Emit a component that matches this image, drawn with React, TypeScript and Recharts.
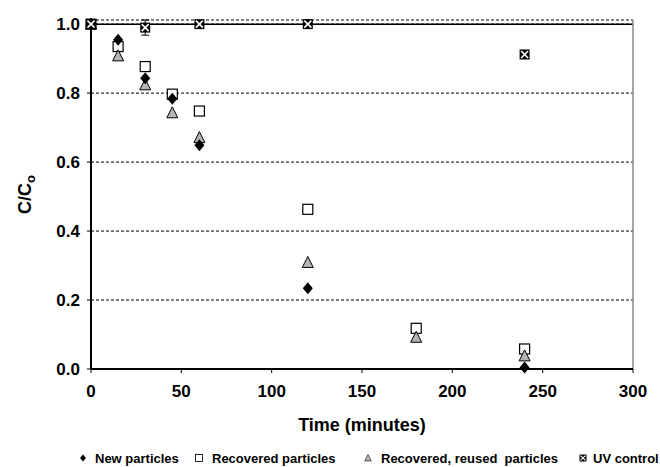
import React from "react";
import {
  ScatterChart,
  Scatter,
  XAxis,
  YAxis,
  CartesianGrid,
  ReferenceLine,
  ErrorBar,
  Legend,
} from "recharts";

// C/Co readings per series (time in minutes)
const newTimes = [0, 15, 30, 45, 60, 120, 240];
const newValues = [1.0, 0.955, 0.843, 0.784, 0.649, 0.234, 0.004];

const recTimes = [0, 15, 30, 45, 60, 120, 180, 240];
const recValues = [1.0, 0.935, 0.877, 0.797, 0.748, 0.463, 0.118, 0.058];
const recErrors = [0, 0, 0.012, 0, 0, 0, 0, 0];

const reuTimes = [0, 15, 30, 45, 60, 120, 180, 240];
const reuValues = [1.0, 0.908, 0.824, 0.743, 0.671, 0.309, 0.092, 0.038];

const uvTimes = [0, 30, 60, 120, 240];
const uvValues = [1.0, 0.99, 1.0, 1.0, 0.912];
const uvErrors = [0, 0.022, 0, 0, 0];

const xTicks = [0, 50, 100, 150, 200, 250, 300];
const yTicks = [0, 0.2, 0.4, 0.6, 0.8, 1.0];

const FONT = "'Liberation Sans', Arial, sans-serif";

const toRows = (times: number[], values: number[], errs?: number[]) =>
  times.map((t, i) => ({ t, v: values[i], err: errs ? errs[i] : 0 }));

const newData = toRows(newTimes, newValues);
const recData = toRows(recTimes, recValues, recErrors);
const reuData = toRows(reuTimes, reuValues);
const uvData = toRows(uvTimes, uvValues, uvErrors);

const Diamond = ({ cx, cy }: any) => (
  <polygon
    points={`${cx},${cy - 6} ${cx + 5},${cy} ${cx},${cy + 6} ${cx - 5},${cy}`}
    fill="#000"
  />
);

const Square = ({ cx, cy }: any) => (
  <rect x={cx - 5} y={cy - 5} width={10} height={10} fill="#fff" stroke="#000" strokeWidth={1.2} />
);

const Triangle = ({ cx, cy }: any) => (
  <polygon
    points={`${cx},${cy - 6} ${cx + 5.5},${cy + 5} ${cx - 5.5},${cy + 5}`}
    fill="#b4b4b4"
    stroke="#000"
    strokeWidth={1}
  />
);

const UvMark = ({ cx, cy }: any) => (
  <g>
    <rect x={cx - 5} y={cy - 5} width={10} height={10} fill="#000" />
    <line x1={cx - 3.5} y1={cy - 3.5} x2={cx + 3.5} y2={cy + 3.5} stroke="#fff" strokeWidth={1.6} />
    <line x1={cx + 3.5} y1={cy - 3.5} x2={cx - 3.5} y2={cy + 3.5} stroke="#fff" strokeWidth={1.6} />
  </g>
);

const legendItems = [
  { name: "New particles", x: 83, tx: 95, shape: Diamond, scale: 0.6 },
  { name: "Recovered particles", x: 199, tx: 212, shape: Square, scale: 0.7 },
  { name: "Recovered, reused  particles", x: 368, tx: 381, shape: Triangle, scale: 0.6 },
  { name: "UV control", x: 583, tx: 593, shape: UvMark, scale: 0.7 },
];

const renderLegend = () => (
  <svg width={660} height={18}>
    {legendItems.map((it) => {
      const S = it.shape;
      return (
        <g key={it.name}>
          <g transform={`translate(${it.x} 9) scale(${it.scale})`}>
            <S cx={0} cy={0} />
          </g>
          <text
            x={it.tx}
            y={13.5}
            fontFamily={FONT}
            fontWeight="bold"
            fontSize={13}
            fill="#000"
            style={{ whiteSpace: "pre" }}
          >
            {it.name}
          </text>
        </g>
      );
    })}
  </svg>
);

const YLabel = ({ viewBox }: any) => {
  const x = viewBox.x - 6;
  const y = viewBox.y + viewBox.height / 2;
  return (
    <text
      x={x}
      y={y}
      transform={`rotate(-90 ${x} ${y})`}
      textAnchor="middle"
      dominantBaseline="central"
      fontFamily={FONT}
      fontWeight="bold"
      fontSize={18}
      fill="#000"
    >
      C/C
      <tspan fontSize={13} dy={5}>o</tspan>
    </text>
  );
};

const tickStyle = { fontFamily: FONT, fontWeight: "bold" as const, fontSize: 17, fill: "#000" };

export default function App() {
  return (
    <div style={{ position: "absolute", left: 0, top: 0, background: "#fff" }}>
      <ScatterChart
        width={660}
        height={467}
        margin={{ top: 20, right: 27, bottom: 0, left: 31 }}
      >
        <CartesianGrid vertical={false} stroke="#000" strokeDasharray="3 2" />
        <ReferenceLine y={1} stroke="#000" strokeWidth={1.5} />
        <ReferenceLine x={300} stroke="#888" strokeWidth={1.5} />
        <XAxis
          type="number"
          dataKey="t"
          domain={[0, 300]}
          ticks={xTicks}
          interval={0}
          height={80}
          tickSize={4}
          tickMargin={12}
          tick={tickStyle}
          axisLine={{ stroke: "#000", strokeWidth: 2 }}
          tickLine={{ stroke: "#000" }}
          label={{
            value: "Time (minutes)",
            position: "insideBottom",
            offset: 18,
            style: { fontFamily: FONT, fontWeight: "bold", fontSize: 18, fill: "#000" },
          }}
        />
        <YAxis
          type="number"
          dataKey="v"
          domain={[0, 1]}
          ticks={yTicks}
          interval={0}
          width={60}
          tickSize={4}
          tickMargin={7}
          tick={tickStyle}
          tickFormatter={(v: number) => v.toFixed(1)}
          axisLine={{ stroke: "#000", strokeWidth: 2 }}
          tickLine={{ stroke: "#000" }}
          label={{ content: YLabel }}
        />
        <Legend verticalAlign="bottom" height={18} content={renderLegend} wrapperStyle={{ left: 0, bottom: 0, width: 660 }} />
        <Scatter name="Recovered particles" data={recData} shape={Square} isAnimationActive={false}>
          <ErrorBar dataKey="err" direction="y" width={3} stroke="#000" strokeWidth={1} />
        </Scatter>
        <Scatter name="Recovered, reused particles" data={reuData} shape={Triangle} isAnimationActive={false} />
        <Scatter name="New particles" data={newData} shape={Diamond} isAnimationActive={false} />
        <Scatter name="UV control" data={uvData} shape={UvMark} isAnimationActive={false}>
          <ErrorBar dataKey="err" direction="y" width={4} stroke="#000" strokeWidth={1} />
        </Scatter>
      </ScatterChart>
    </div>
  );
}
